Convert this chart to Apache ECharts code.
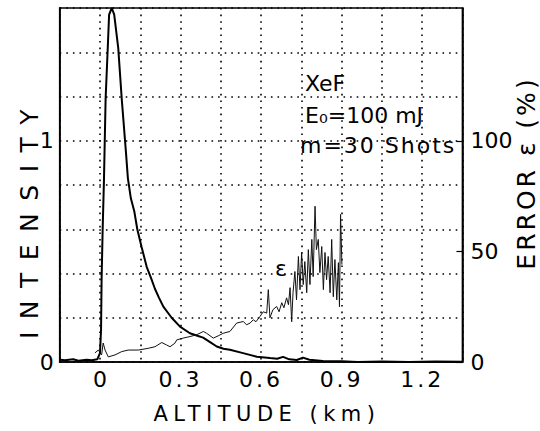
<!DOCTYPE html>
<html>
<head>
<meta charset="utf-8">
<script src="https://cdn.jsdelivr.net/npm/echarts@6.0.0/dist/echarts.min.js"></script>
<style>
html,body{margin:0;padding:0;background:#fff;}
#chart{width:540px;height:431px;}
</style>
</head>
<body>
<div id="chart"></div>
<script>
// ---- data ----
const altitudeI = [-0.15, -0.13, -0.1, -0.08, -0.05, -0.03, -0.01, 0.0, 0.004, 0.006, 0.01, 0.015, 0.021, 0.029, 0.034, 0.044, 0.053, 0.068, 0.081, 0.096, 0.104, 0.115, 0.128, 0.139, 0.155, 0.174, 0.19, 0.205, 0.22, 0.236, 0.267, 0.298, 0.335, 0.36, 0.384, 0.41, 0.435, 0.46, 0.484, 0.533, 0.584, 0.633, 0.66, 0.682, 0.705, 0.733, 0.756, 0.78, 0.83, 0.9, 0.96, 1.05, 1.15, 1.25, 1.35];
const intensity = [0.01, 0.008, 0.012, 0.006, 0.01, 0.008, 0.012, 0.04, 0.145, 0.37, 0.6, 0.83, 1.19, 1.42, 1.57, 1.6, 1.57, 1.42, 1.19, 0.96, 0.83, 0.74, 0.68, 0.6, 0.52, 0.43, 0.38, 0.33, 0.29, 0.25, 0.2, 0.16, 0.13, 0.12, 0.11, 0.09, 0.07, 0.06, 0.055, 0.04, 0.024, 0.018, 0.015, 0.023, 0.012, 0.009, 0.02, 0.01, 0.005, 0.003, 0.0, 0.002, 0.0, 0.002, 0.001];

const altitudeE = [-0.019, -0.006, 0.006, 0.012, 0.019, 0.031, 0.056, 0.081, 0.105, 0.143, 0.18, 0.205, 0.23, 0.248, 0.261, 0.279, 0.286, 0.31, 0.335, 0.36, 0.385, 0.397, 0.422, 0.44, 0.459, 0.484, 0.509, 0.534, 0.546, 0.559, 0.571, 0.581, 0.596, 0.608, 0.621, 0.627, 0.633, 0.644, 0.658, 0.667, 0.677, 0.685, 0.695, 0.702, 0.708, 0.714, 0.719, 0.726, 0.732, 0.739, 0.745, 0.751, 0.757, 0.763, 0.77, 0.776, 0.782, 0.789, 0.794, 0.801, 0.806, 0.813, 0.819, 0.826, 0.832, 0.838, 0.844, 0.85, 0.857, 0.863, 0.869, 0.875, 0.882, 0.888, 0.892, 0.896, 0.901];
const errorPct = [4.1, 5.4, 3.2, 8.6, 5.4, 2.3, 3.2, 4.7, 5.4, 5.4, 6.2, 6.9, 8.8, 7.7, 6.9, 8.5, 10, 10.8, 11.5, 12.3, 13.8, 13, 10.8, 11.8, 13, 13.8, 17.6, 18.3, 16.8, 17.6, 19.1, 18.2, 20.6, 22.7, 22.1, 32.7, 20, 23.6, 25.1, 22.7, 26.8, 24.5, 29, 25.9, 33.6, 18.2, 31.3, 40.9, 28.1, 47.7, 32.7, 49.5, 35, 45.4, 31.3, 50.8, 35, 55.4, 38.6, 70.4, 50.8, 55.4, 40.4, 52.2, 32.7, 49.5, 37.2, 47.7, 31.3, 55.4, 29.5, 46.3, 28.1, 44.9, 25, 66.7, 44];

const xTickLabels = ['0', '0.3', '0.6', '0.9', '1.2'];
const yLeftTickLabels = ['0', '1'];
const yRightTickLabels = ['0', '50', '100'];

const xTitle = 'ALTITUDE (km)';
const yLeftTitle = 'INTENSITY';
const yRightTitle = 'ERROR ε (%)';
const annotations = ['XeF', 'E₀=100 mJ', 'm=30 Shots'];
const curveLabel = 'ε';

// ---- chart ----
const FONT = '"DejaVu Sans", sans-serif';
const el = document.getElementById('chart');
const chart = echarts.init(el, null, {renderer: 'svg'});

const fmt = (list) => (v) => { const s = String(+(+v).toFixed(3)); return list.includes(s) ? s : ''; };
const dotted = {color: '#000', width: 1.6, type: [1.6, 5]};
const frameLine = {show: true, onZero: false, lineStyle: {color: '#000', width: 1.6}};

const option = {
  animation: false,
  backgroundColor: '#fff',
  grid: {left: 59.7, top: 8, width: 402.75, height: 354, show: true, borderColor: '#000', borderWidth: 1.6, backgroundColor: 'transparent'},
  xAxis: {
    type: 'value', min: -0.15, max: 1.35, interval: 0.15,
    axisLine: frameLine,
    axisTick: {show: false},
    splitLine: {show: true, lineStyle: dotted},
    axisLabel: {formatter: fmt(xTickLabels), color: '#000', fontSize: 22, fontFamily: FONT, margin: 6, showMinLabel: true, showMaxLabel: true}
  },
  yAxis: [{
    type: 'value', min: 0, max: 1.6, interval: 0.2, position: 'left',
    axisLine: frameLine,
    axisTick: {show: false},
    splitLine: {show: true, lineStyle: dotted},
    axisLabel: {formatter: fmt(yLeftTickLabels), color: '#000', fontSize: 22, fontFamily: FONT, margin: 6}
  }, {
    type: 'value', min: 0, max: 160, interval: 50, position: 'right',
    axisLine: frameLine,
    axisTick: {show: true, inside: true, length: 6, lineStyle: {color: '#000', width: 1.2}, customValues: [0, 50, 100]},
    splitLine: {show: false},
    axisLabel: {formatter: fmt(yRightTickLabels), color: '#000', fontSize: 22, fontFamily: FONT, margin: 8}
  }],
  series: [{
    type: 'line', xAxisIndex: 0, yAxisIndex: 0, showSymbol: false, symbol: 'none',
    lineStyle: {color: '#000', width: 2},
    data: altitudeI.map((a, i) => [a, intensity[i]])
  }, {
    type: 'line', xAxisIndex: 0, yAxisIndex: 1, showSymbol: false, symbol: 'none',
    lineStyle: {color: '#111', width: 1},
    data: altitudeE.map((a, i) => [a, errorPct[i]])
  }],
  graphic: [
    {type: 'text', x: 29, y: 218, rotation: Math.PI / 2,
     style: {text: yLeftTitle, fill: '#000', fontSize: 25, fontFamily: FONT, align: 'center', verticalAlign: 'middle', textAlign: 'center', textVerticalAlign: 'middle'}},
    {type: 'text', x: 526, y: 173, rotation: Math.PI / 2,
     style: {text: yRightTitle, fill: '#000', fontSize: 25, fontFamily: FONT, align: 'center', verticalAlign: 'middle', textAlign: 'center', textVerticalAlign: 'middle'}},
    {type: 'text', x: 267, y: 414,
     style: {text: xTitle, fill: '#000', fontSize: 21, fontFamily: FONT, align: 'center', verticalAlign: 'middle', textAlign: 'center', textVerticalAlign: 'middle'}},
    {type: 'text', x: 305, y: 83,
     style: {text: annotations[0], fill: '#000', fontSize: 22, fontFamily: FONT, align: 'left', verticalAlign: 'middle', textAlign: 'left', textVerticalAlign: 'middle'}},
    {type: 'text', x: 305, y: 115,
     style: {text: annotations[1], fill: '#000', fontSize: 22, fontFamily: FONT, align: 'left', verticalAlign: 'middle', textAlign: 'left', textVerticalAlign: 'middle'}},
    {type: 'text', x: 300, y: 145,
     style: {text: annotations[2], fill: '#000', fontSize: 22, fontFamily: FONT, align: 'left', verticalAlign: 'middle', textAlign: 'left', textVerticalAlign: 'middle'}},
    {type: 'text', x: 281, y: 268,
     style: {text: curveLabel, fill: '#000', fontSize: 22, fontFamily: FONT, align: 'center', verticalAlign: 'middle', textAlign: 'center', textVerticalAlign: 'middle'}}
  ]
};
chart.setOption(option);

// typewriter-like letter spacing of the original print
const spacingPx = {'INTENSITY': 12.5, 'ALTITUDE (km)': 5.5, 'ERROR ε (%)': 3, '0.3': 3, '0.6': 3, '0.9': 3, '1.2': 3, 'm=30 Shots': 2};
function applySpacing() {
  el.querySelectorAll('text').forEach(t => {
    const k = t.textContent;
    if (Object.prototype.hasOwnProperty.call(spacingPx, k)) t.style.letterSpacing = spacingPx[k] + 'px';
  });
}
applySpacing();
chart.on('finished', applySpacing);
setTimeout(applySpacing, 30);
</script>
</body>
</html>
